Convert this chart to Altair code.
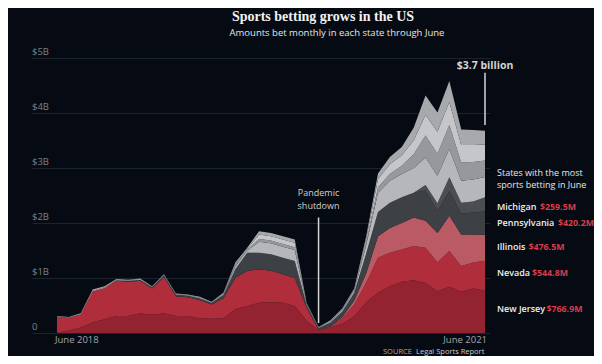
import altair as alt
import pandas as pd

# ---------------- data (billions of dollars, monthly Jun 2018 .. Jun 2021) ----------------
months = [str(p) for p in pd.period_range("2018-06", "2021-06", freq="M")]

new_jersey = [0.01, 0.04, 0.10, 0.19, 0.25, 0.31, 0.31, 0.36, 0.33, 0.36, 0.31, 0.31, 0.27,
              0.26, 0.27, 0.43, 0.49, 0.55, 0.56, 0.55, 0.49, 0.22, 0.05, 0.10, 0.17, 0.30,
              0.56, 0.73, 0.85, 0.93, 0.96, 0.91, 0.76, 0.84, 0.75, 0.81, 0.767]
nevada = [0.29, 0.24, 0.24, 0.57, 0.57, 0.64, 0.62, 0.59, 0.48, 0.66, 0.36, 0.34, 0.33,
          0.26, 0.36, 0.57, 0.64, 0.61, 0.57, 0.52, 0.51, 0.24, 0.01, 0.01, 0.10, 0.22,
          0.35, 0.64, 0.61, 0.59, 0.62, 0.64, 0.52, 0.65, 0.47, 0.47, 0.545]
illinois = [0, 0, 0, 0, 0, 0, 0, 0, 0, 0, 0, 0, 0,
            0, 0, 0, 0, 0, 0, 0, 0, 0.01, 0.0, 0.01, 0.02, 0.07,
            0.17, 0.39, 0.45, 0.48, 0.52, 0.49, 0.54, 0.64, 0.57, 0.51, 0.4765]
pennsylvania = [0, 0, 0, 0, 0, 0.01, 0.02, 0.02, 0.02, 0.03, 0.03, 0.03, 0.03,
                0.03, 0.06, 0.16, 0.33, 0.30, 0.30, 0.30, 0.31, 0.04, 0.03, 0.07, 0.10, 0.14,
                0.36, 0.44, 0.46, 0.47, 0.45, 0.55, 0.40, 0.45, 0.38, 0.40, 0.4202]
michigan = [0, 0, 0, 0, 0, 0, 0, 0, 0, 0, 0, 0, 0,
            0, 0, 0, 0, 0, 0, 0, 0, 0, 0, 0, 0, 0,
            0, 0, 0, 0, 0, 0.10, 0.14, 0.25, 0.20, 0.20, 0.2595]
other_a = [0, 0, 0, 0, 0, 0, 0, 0, 0, 0, 0, 0, 0,
           0, 0.01, 0.05, 0.04, 0.20, 0.20, 0.20, 0.20, 0.01, 0.01, 0.02, 0.03, 0.04,
           0.15, 0.35, 0.40, 0.42, 0.45, 0.50, 0.50, 0.52, 0.40, 0.40, 0.37]
other_b = [0, 0, 0, 0, 0, 0, 0, 0, 0, 0, 0, 0, 0,
           0, 0, 0.02, 0.01, 0.05, 0.05, 0.05, 0.05, 0, 0, 0, 0.01, 0.01,
           0.05, 0.10, 0.12, 0.15, 0.25, 0.40, 0.40, 0.43, 0.33, 0.32, 0.30]
other_c = [0, 0, 0, 0.01, 0.01, 0.01, 0.01, 0.01, 0.01, 0.01, 0.01, 0.01, 0.01,
           0.01, 0.01, 0.02, 0.02, 0.08, 0.08, 0.08, 0.08, 0.01, 0, 0.01, 0.01, 0.02,
           0.06, 0.15, 0.18, 0.19, 0.25, 0.38, 0.40, 0.42, 0.32, 0.31, 0.29]
other_d = [0.01, 0.01, 0.02, 0.02, 0.02, 0.01, 0.01, 0.01, 0.01, 0.01, 0.01, 0.01, 0.02,
           0.01, 0.02, 0.03, 0.02, 0.06, 0.06, 0.06, 0.06, 0.01, 0.01, 0.01, 0.01, 0.01,
           0.05, 0.10, 0.13, 0.15, 0.23, 0.35, 0.35, 0.38, 0.28, 0.27, 0.25]

states = ["New Jersey", "Nevada", "Illinois", "Pennsylvania", "Michigan",
          "Other states A", "Other states B", "Other states C", "Other states D"]
series = [new_jersey, nevada, illinois, pennsylvania, michigan,
          other_a, other_b, other_c, other_d]
colors = ["#932331", "#b02d3b", "#ba5a64", "#3d4044", "#4a4d51",
          "#b5b7ba", "#96989c", "#c4c6c9", "#a7a9ad"]

tick_vals = [0, 1, 2, 3, 4, 5]
tick_labels = ["0", "$1B", "$2B", "$3B", "$4B", "$5B"]

legend_names = ["Michigan", "Pennsylvania", "Illinois", "Nevada", "New Jersey"]
legend_values = ["$259.5M", "$420.2M", "$476.5M", "$544.8M", "$766.9M"]

# ---------------- build table ----------------
rows = []
for k, (s, vals) in enumerate(zip(states, series)):
    for i, v in enumerate(vals):
        rows.append({"idx": i, "month": months[i], "state": s, "value": v, "order": k})
df = pd.DataFrame(rows)

SANS = "Open Sans"
SERIF = "Liberation Serif"
BG = "#060b13"

xs = alt.Scale(domain=[-2.1, 36.42], nice=False, zero=False)
ys = alt.Scale(domain=[0, 5.909], nice=False, zero=True)

area = alt.Chart(df).mark_area(interpolate="linear").encode(
    x=alt.X("idx:Q", scale=xs, axis=None),
    y=alt.Y("value:Q", stack="zero", scale=ys,
            axis=alt.Axis(values=tick_vals, grid=True, labels=False, ticks=False,
                          domain=False, title=None, gridColor="#1d232c", gridWidth=1)),
    color=alt.Color("state:N", scale=alt.Scale(domain=states, range=colors), legend=None),
    order=alt.Order("order:Q", sort="ascending"),
)

ticks = alt.Chart(pd.DataFrame({"v": tick_vals, "t": tick_labels})).mark_text(
    align="left", baseline="alphabetic", dy=-3, fontSize=9.5, color="#7c8187", font=SANS
).encode(x=alt.value(0), y=alt.Y("v:Q", scale=ys), text="t:N")

# pandemic annotation
pand_rule = alt.Chart(pd.DataFrame({"idx": [22], "y": [2.1], "y2": [0.18]})).mark_rule(
    color="#d6d6d6", strokeWidth=1.5
).encode(x=alt.X("idx:Q", scale=xs), y=alt.Y("y:Q", scale=ys), y2="y2:Q")
pand_text = alt.Chart(pd.DataFrame({"idx": [22, 22], "y": [2.54, 2.31],
                                    "t": ["Pandemic", "shutdown"]})).mark_text(
    align="center", baseline="middle", fontSize=9, color="#cfcfcf", font=SANS
).encode(x=alt.X("idx:Q", scale=xs), y=alt.Y("y:Q", scale=ys), text="t:N")

# total annotation
tot_rule = alt.Chart(pd.DataFrame({"idx": [36], "y": [4.73], "y2": [3.78]})).mark_rule(
    color="#d6d6d6", strokeWidth=1.5
).encode(x=alt.X("idx:Q", scale=xs), y=alt.Y("y:Q", scale=ys), y2="y2:Q")
tot_text = alt.Chart(pd.DataFrame({"idx": [36], "y": [4.86], "t": ["$3.7 billion"]})).mark_text(
    align="center", baseline="middle", fontSize=10.5, fontWeight="bold", color="#d4d4d4", font=SANS
).encode(x=alt.X("idx:Q", scale=xs), y=alt.Y("y:Q", scale=ys), text="t:N")

# x labels
xlab_df = pd.DataFrame({"idx": [0, 36], "t": ["June 2018", "June 2021"], "a": ["left", "right"]})
xlab_l = alt.Chart(xlab_df).transform_filter("datum.a == 'left'").mark_text(
    align="left", baseline="middle", fontSize=9.5, color="#a3a7ac", font=SANS, dx=-2
).encode(x=alt.X("idx:Q", scale=xs), y=alt.value(332), text="t:N")
xlab_r = alt.Chart(xlab_df).transform_filter("datum.a == 'right'").mark_text(
    align="right", baseline="middle", fontSize=9.5, color="#a3a7ac", font=SANS, dx=2
).encode(x=alt.X("idx:Q", scale=xs), y=alt.value(332), text="t:N")

# ---------------- layout (pixel positions inside plot area) ----------------
title = alt.Chart(pd.DataFrame({"t": ["Sports betting grows in the US"]})).mark_text(
    align="center", baseline="top", fontSize=14, fontWeight="bold", color="#f2f2f2", font=SERIF
).encode(x=alt.value(291), y=alt.value(2), text="t:N")
subtitle = alt.Chart(pd.DataFrame({"t": ["Amounts bet monthly in each state through June"]})).mark_text(
    align="center", baseline="middle", fontSize=9.5, color="#e6e6e6", font=SANS
).encode(x=alt.value(305), y=alt.value(25), text="t:N")

head = alt.Chart(pd.DataFrame({"t": ["States with the most", "sports betting in June"],
                               "py": [165, 177]})).mark_text(
    align="left", baseline="middle", fontSize=9, fontWeight=500, color="#e8e8e8", font=SANS
).encode(x=alt.value(465), y=alt.Y("py:Q", scale=None), text="t:N")

leg_y = [199, 215, 239, 265, 301]
leg_vx = [508, 526, 496.5, 500, 514.5]
names = alt.Chart(pd.DataFrame({"t": legend_names, "py": leg_y})).mark_text(
    align="left", baseline="middle", fontSize=9, fontWeight=600, color="#efefef", font=SANS
).encode(x=alt.value(465), y=alt.Y("py:Q", scale=None), text="t:N")
vals = alt.Chart(pd.DataFrame({"t": legend_values, "py": leg_y, "px": leg_vx})).mark_text(
    align="left", baseline="middle", fontSize=8.8, fontWeight="bold", color="#d93d4a", font=SANS
).encode(x=alt.X("px:Q", scale=None), y=alt.Y("py:Q", scale=None), text="t:N")

src1 = alt.Chart(pd.DataFrame({"t": ["SOURCE"]})).mark_text(
    align="left", baseline="middle", fontSize=7.5, color="#a9a9a9", font=SANS
).encode(x=alt.value(351), y=alt.value(344), text="t:N")
src2 = alt.Chart(pd.DataFrame({"t": ["Legal Sports Report"]})).mark_text(
    align="left", baseline="middle", fontSize=7.5, color="#c9c9c9", font=SANS
).encode(x=alt.value(384), y=alt.value(344), text="t:N")
src_line = alt.Chart(pd.DataFrame({"a": [0]})).mark_rule(color="#c9c9c9", strokeWidth=0.8).encode(
    x=alt.value(384), x2=alt.value(451), y=alt.value(348.5)
)

chart = alt.layer(
    area, ticks, pand_rule, pand_text, tot_rule, tot_text, xlab_l, xlab_r,
    title, subtitle, head, names, vals, src1, src2, src_line
).properties(
    width=458, height=325,
    background=BG,
    padding={"left": 24, "top": 0, "right": 104, "bottom": 23},
    autosize=alt.AutoSizeParams(type="none"),
).configure_view(stroke=None)

chart.save("out.html", embed_options={"renderer": "svg", "actions": False})
